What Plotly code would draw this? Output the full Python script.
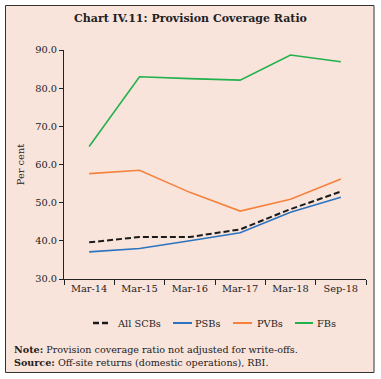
import plotly.graph_objects as go

categories = ["Mar-14", "Mar-15", "Mar-16", "Mar-17", "Mar-18", "Sep-18"]
all_scbs = [39.6, 41.0, 41.0, 43.0, 48.3, 52.9]
psbs = [37.1, 38.0, 40.0, 42.1, 47.5, 51.4]
pvbs = [57.6, 58.5, 52.7, 47.8, 50.9, 56.2]
fbs = [64.7, 83.0, 82.5, 82.1, 88.7, 86.9]
y_ticks = [30, 40, 50, 60, 70, 80, 90]

W, H = 381, 379
L, R, T, B = 64, 15, 50, 100
PW, PH = W - L - R, H - T - B

def px(x):
    return (x - L) / PW

def py(y):
    return (H - B - y) / PH

FONT = "DejaVu Serif"

fig = go.Figure()
series = [
    ("All SCBs", all_scbs, "#1a1a1a", "6px,3px", 2.0),
    ("PSBs", psbs, "#2b73bf", "solid", 1.6),
    ("PVBs", pvbs, "#f4823d", "solid", 1.6),
    ("FBs", fbs, "#22b14c", "solid", 1.6),
]
for name, vals, color, dash, w in series:
    fig.add_trace(go.Scatter(
        x=categories, y=vals, name=name, mode="lines",
        line=dict(color=color, width=w, dash=dash),
        showlegend=False,
    ))

fig.update_layout(
    width=W, height=H,
    margin=dict(l=L, r=R, t=T, b=B),
    paper_bgcolor="white",
    plot_bgcolor="rgba(0,0,0,0)",
    font=dict(family=FONT, size=9.5, color="#222"),
    title=dict(text="<b>Chart IV.11: Provision Coverage Ratio</b>",
               x=0.5, xanchor="center", y=1 - 18 / H, yanchor="middle",
               font=dict(family=FONT, size=11, color="#222")),
    xaxis=dict(type="category", range=[-0.5, 5.5], automargin=False,
               showline=True, linecolor="#222", linewidth=1,
               ticks="outside", tickson="boundaries", ticklen=5,
               tickcolor="#222", showgrid=False, zeroline=False,
               tickfont=dict(size=9.8)),
    yaxis=dict(range=[30, 90], tickvals=y_ticks, automargin=False,
               ticktext=[f"{v:.1f}" for v in y_ticks],
               showline=True, linecolor="#222", linewidth=1,
               ticks="outside", ticklen=4, tickcolor="#222",
               showgrid=False, zeroline=False,
               title=dict(text="Per cent", standoff=8, font=dict(size=9.8)),
               tickfont=dict(size=9.8)),
)

fig.add_shape(type="rect", xref="paper", yref="paper", layer="below",
              x0=px(5.5), x1=px(374), y0=py(372.5), y1=py(5.5),
              fillcolor="#f9e4dc", line=dict(color="#333", width=1))

# manual legend
legend_pos = [(93, 109, 115), (173, 192, 193), (233, 252, 255), (295, 313, 315)]
ly = py(323)
for (name, vals, color, dash, w), (x0, x1, tx) in zip(series, legend_pos):
    fig.add_shape(type="line", xref="paper", yref="paper",
                  x0=px(x0), x1=px(x1), y0=ly, y1=ly,
                  line=dict(color=color, width=2.4 if dash != "solid" else 2,
                            dash=dash))
    fig.add_annotation(xref="paper", yref="paper", x=px(tx), y=ly,
                       xanchor="left", yanchor="middle", showarrow=False,
                       text=name, font=dict(family=FONT, size=9.8, color="#222"))

fig.add_annotation(xref="paper", yref="paper", x=px(12), y=py(349),
                   xanchor="left", yanchor="middle", showarrow=False,
                   text="<b>Note:</b> Provision coverage ratio not adjusted for write-offs.",
                   font=dict(family=FONT, size=9.6, color="#222"))
fig.add_annotation(xref="paper", yref="paper", x=px(12), y=py(362),
                   xanchor="left", yanchor="middle", showarrow=False,
                   text="<b>Source:</b> Off-site returns (domestic operations), RBI.",
                   font=dict(family=FONT, size=9.6, color="#222"))

fig.write_html("out.html", config={"displayModeBar": False},
               post_script="document.body.style.margin='0';document.body.style.overflow='hidden';")
